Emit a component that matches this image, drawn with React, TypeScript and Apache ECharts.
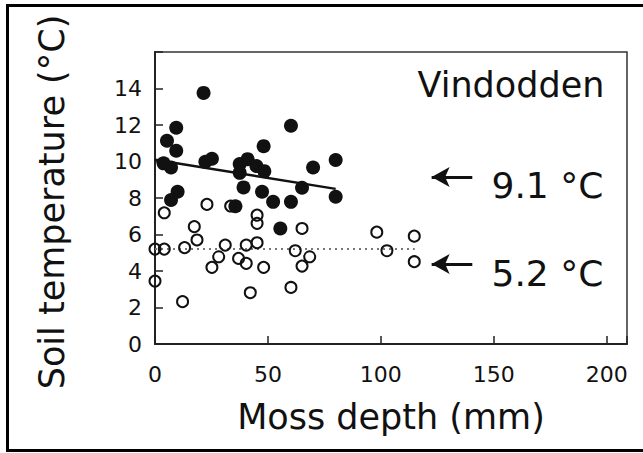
import React, { useEffect, useRef } from "react";
import * as echarts from "echarts";

const filledPoints: [number, number][] = [
  [21.5, 13.76], [9.4, 11.85], [60.2, 11.96], [5.3, 11.14], [9.4, 10.59], [48.1, 10.84],
  [3.8, 9.9], [7.1, 9.67], [22.3, 9.98], [25.2, 10.15], [37.5, 9.86], [41.0, 10.13],
  [37.5, 9.38], [44.9, 9.75], [48.4, 9.47], [70.0, 9.67], [80.0, 10.08], [39.2, 8.58],
  [65.1, 8.56], [10.0, 8.34], [7.1, 7.89], [47.4, 8.34], [52.3, 7.79], [60.2, 7.79],
  [80.0, 8.07], [35.6, 7.55], [55.5, 6.33],
];

const openPoints: [number, number][] = [
  [4.1, 7.19], [23.0, 7.65], [33.5, 7.56], [45.2, 7.06], [45.2, 6.61], [17.4, 6.43],
  [65.1, 6.33], [98.2, 6.13], [18.6, 5.7], [0, 5.2], [4.1, 5.2], [13.1, 5.28],
  [31.1, 5.42], [40.4, 5.42], [45.2, 5.55], [102.7, 5.11], [62.1, 5.11], [28.2, 4.78],
  [37.0, 4.69], [40.4, 4.42], [68.5, 4.78], [25.2, 4.2], [48.1, 4.2], [65.1, 4.27],
  [0, 3.45], [60.2, 3.1], [42.2, 2.81], [12.2, 2.32], [114.8, 5.91], [114.8, 4.51],
];

const regressionLine: [number, number][] = [[0, 10.1], [80, 8.5]];
const meanLine: [number, number][] = [[0, 5.2], [115, 5.2]];

const arrowLines: [number, number][][] = [
  [[122.5, 9.15], [140.5, 9.15]],
  [[122.5, 4.38], [140.5, 4.38]],
];

const annotations: { pos: [number, number]; text: string; side: "left" | "right" }[] = [
  { pos: [199, 14.2], text: "Vindodden", side: "left" },
  { pos: [149, 8.7], text: "9.1 °C", side: "right" },
  { pos: [149, 3.85], text: "5.2 °C", side: "right" },
];

const xTicks = [0, 50, 100, 150, 200];
const yTicks = [0, 2, 4, 6, 8, 10, 12, 14];

const FONT = "DejaVu Sans";

export default function App() {
  const ref = useRef<HTMLDivElement>(null);
  useEffect(() => {
    document.body.style.margin = "0";
    if (!ref.current) return;
    const chart = echarts.init(ref.current, null, { renderer: "svg" });
    const option: any = {
      animation: false,
      backgroundColor: "#fff",
      grid: {
        left: 155,
        top: 52,
        right: 16,
        bottom: 109,
        show: true,
        borderColor: "#333",
        borderWidth: 1.5,
        outerBoundsMode: "none",
        containLabel: false,
      },
      xAxis: {
        type: "value",
        min: 0,
        max: 209,
        interval: 50,
        name: "Moss depth (mm)",
        nameLocation: "middle",
        nameGap: 55,
        nameTextStyle: { fontFamily: FONT, fontSize: 35, color: "#111" },
        axisLine: { onZero: false, lineStyle: { color: "#222", width: 2 } },
        axisTick: { inside: true, length: 8, lineStyle: { color: "#222", width: 1.5 } },
        axisLabel: {
          fontFamily: FONT,
          fontSize: 22,
          color: "#111",
          margin: 19,
          formatter: (v: number) => (xTicks.includes(v) ? String(v) : ""),
        },
        splitLine: { show: false },
      },
      yAxis: {
        type: "value",
        min: 0,
        max: 16,
        interval: 2,
        name: "Soil temperature (°C)",
        nameLocation: "middle",
        nameGap: 86,
        nameTextStyle: { fontFamily: FONT, fontSize: 35, color: "#111", padding: [0, 8, 0, 0] },
        axisLine: { onZero: false, lineStyle: { color: "#222", width: 2 } },
        axisTick: { inside: true, length: 8, lineStyle: { color: "#222", width: 1.5 } },
        axisLabel: {
          fontFamily: FONT,
          fontSize: 22,
          color: "#111",
          margin: 13,
          formatter: (v: number) => (yTicks.includes(v) ? String(v) : ""),
        },
        splitLine: { show: false },
      },
      graphic: [
        {
          type: "rect",
          shape: { x: 7.5, y: 5.5, width: 637, height: 445 },
          style: { fill: "none", stroke: "#000", lineWidth: 3 },
          silent: true,
        },
      ],
      series: [
        {
          type: "line",
          data: meanLine,
          showSymbol: false,
          symbol: "none",
          lineStyle: { color: "#777", width: 2, type: [2, 4] },
          z: 1,
        },
        {
          type: "line",
          data: regressionLine,
          showSymbol: false,
          symbol: "none",
          lineStyle: { color: "#111", width: 2.5 },
          z: 1,
          markLine: {
            silent: true,
            symbol: ["arrow", "none"],
            symbolSize: [15, 18],
            label: { show: false },
            lineStyle: { color: "#111", width: 3, type: "solid" },
            data: arrowLines.map((l) => [{ coord: l[0] }, { coord: l[1] }]),
          },
        },
        {
          type: "scatter",
          data: filledPoints,
          symbolSize: 14,
          itemStyle: { color: "#111", opacity: 1 },
          z: 3,
        },
        {
          type: "scatter",
          data: openPoints,
          symbolSize: 11,
          itemStyle: { color: "rgba(0,0,0,0)", borderColor: "#111", borderWidth: 2, opacity: 1 },
          z: 4,
        },
        ...annotations.map((a) => ({
          type: "scatter",
          data: [a.pos],
          symbolSize: 0,
          silent: true,
          z: 5,
          itemStyle: { opacity: 1 },
          label: {
            show: true,
            position: a.side,
            distance: 0,
            formatter: a.text,
            fontFamily: FONT,
            fontSize: a.text === "Vindodden" ? 35 : 36,
            color: "#111",
          },
        })),
      ],
    };
    chart.setOption(option);
    return () => chart.dispose();
  }, []);
  return <div ref={ref} style={{ width: 643, height: 453 }} />;
}
